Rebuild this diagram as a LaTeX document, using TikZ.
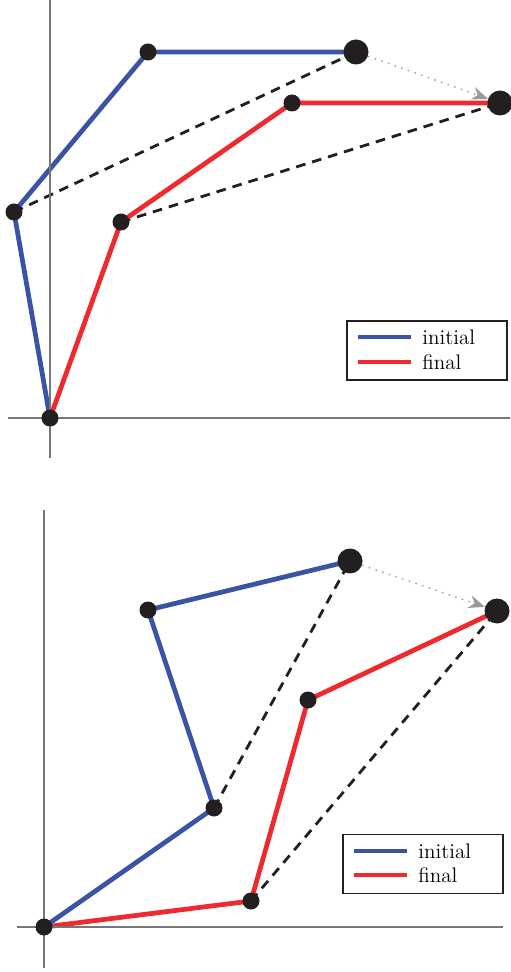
\documentclass[tikz,border=0pt]{standalone}
\usepackage{xcolor}
\usepackage{tikz}
\usetikzlibrary{positioning,arrows.meta,backgrounds,calc}
\definecolor{initc}{HTML}{3A53A4}
\definecolor{finc}{HTML}{EE2A2E}
\definecolor{ink}{HTML}{231F20}
\definecolor{axc}{HTML}{777777}
\definecolor{movec}{HTML}{9A9A9A}
\tikzset{
  joint/.style={circle,fill=ink,inner sep=0pt,minimum size=3.4mm},
  tipjoint/.style={circle,fill=ink,inner sep=0pt,minimum size=5mm},
  axis/.style={draw=axc,line width=0.6pt},
  armi/.style={draw=initc,line width=2.7pt},
  armf/.style={draw=finc,line width=2.7pt},
  reach/.style={draw=ink,line width=1.6pt,dash pattern=on 5.5pt off 4pt},
  move/.style={draw=movec,line width=0.8pt,dash pattern=on 0.8pt off 3.2pt,
    -{Stealth[length=3.2mm,width=2.6mm]}},
  legbox/.style={draw=ink,line width=0.7pt,fill=white,minimum width=3.2cm,
    minimum height=1.18cm,inner sep=0pt},
  legtxt/.style={anchor=west,font=\large,inner sep=0pt},
}

\begin{document}
\begin{tikzpicture}[x=0.02cm,y=-0.02cm]
  \useasboundingbox (0,0) rectangle (510,972);
  % upper panel
  \coordinate (ax1t) at (50,0);   \coordinate (ax1b) at (50,458);
  \coordinate (ax1l) at (8,418);  \coordinate (ax1r) at (510,418);
  \draw[axis] (ax1t)--(ax1b);
  \draw[axis] (ax1l)--(ax1r);
  \node[joint] (o1) at (50,418) {};
  \node[joint] (i1a) at (14,212) {};
  \node[joint] (i1b) at (148,52) {};
  \node[tipjoint] (i1t) at (356,52) {};
  \node[joint] (f1a) at (121,222) {};
  \node[joint] (f1b) at (292,103) {};
  \node[tipjoint] (f1t) at (500,103) {};
  \begin{scope}[on background layer]
    \draw[reach] (i1a.center)--(i1t.center);
    \draw[reach] (f1a.center)--(f1t.center);
    \draw[armi] (o1.center)--(i1a.center)--(i1b.center)--(i1t.center);
    \draw[armf] (o1.center)--(f1a.center)--(f1b.center)--(f1t.center);
  \end{scope}
  \draw[move] (i1t)--(f1t);
  \node[legbox] (leg1) at (427,350.5) {};
  \coordinate (l1a) at (358,337); \coordinate (l1b) at (411,337);
  \coordinate (l1c) at (358,362); \coordinate (l1d) at (411,362);
  \draw[armi] (l1a)--(l1b);
  \draw[armf] (l1c)--(l1d);
  \node[legtxt] (t1a) at (422,337) {initial};
  \node[legtxt] (t1b) at (422,362) {final};
  % lower panel
  \coordinate (ax2t) at (44,510);  \coordinate (ax2b) at (44,968);
  \coordinate (ax2l) at (17,927);  \coordinate (ax2r) at (503,927);
  \draw[axis] (ax2t)--(ax2b);
  \draw[axis] (ax2l)--(ax2r);
  \node[joint] (o2) at (44,927) {};
  \node[joint] (i2a) at (214,808) {};
  \node[joint] (i2b) at (148,610) {};
  \node[tipjoint] (i2t) at (350,561) {};
  \node[joint] (f2a) at (251,901) {};
  \node[joint] (f2b) at (308,700) {};
  \node[tipjoint] (f2t) at (497,611) {};
  \begin{scope}[on background layer]
    \draw[reach] (i2a.center)--(i2t.center);
    \draw[reach] (f2a.center)--(f2t.center);
    \draw[armi] (o2.center)--(i2a.center)--(i2b.center)--(i2t.center);
    \draw[armf] (o2.center)--(f2a.center)--(f2b.center)--(f2t.center);
  \end{scope}
  \draw[move] (i2t)--(f2t);
  \node[legbox] (leg2) at (423,864) {};
  \coordinate (l2a) at (354,851); \coordinate (l2b) at (407,851);
  \coordinate (l2c) at (354,875); \coordinate (l2d) at (407,875);
  \draw[armi] (l2a)--(l2b);
  \draw[armf] (l2c)--(l2d);
  \node[legtxt] (t2a) at (418,851) {initial};
  \node[legtxt] (t2b) at (418,875) {final};
\end{tikzpicture}
\end{document}
